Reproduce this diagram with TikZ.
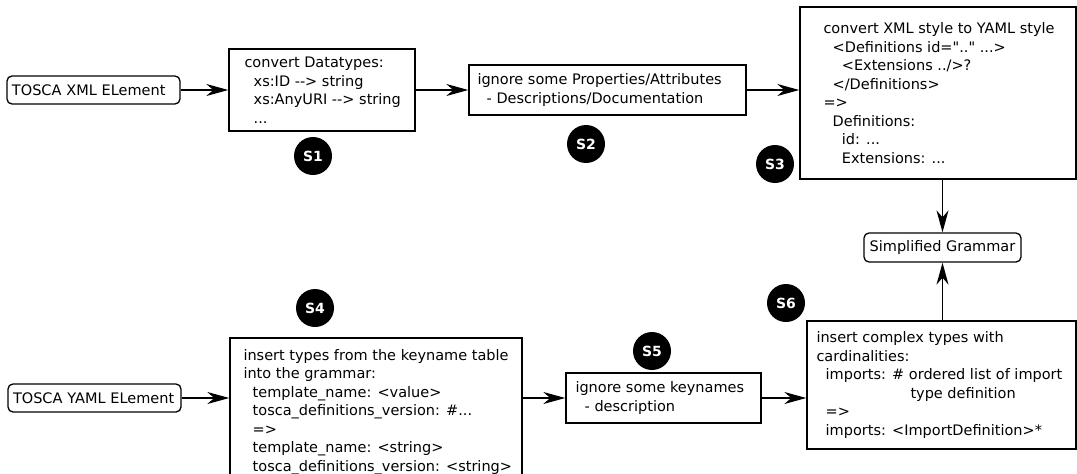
\documentclass[tikz,border=0pt]{standalone}
\usepackage{fontspec}
\newfontfamily\djv{DejaVu Sans}
\usetikzlibrary{arrows.meta}
\newcommand\myind{\hspace*{9.2pt}}
\begin{document}
\begin{tikzpicture}[x=1pt,y=-1pt,
  procbox/.style={draw, line width=1.4pt, inner sep=0pt},
  termbox/.style={draw, line width=1.3pt, rounded corners=5pt, inner xsep=5pt, inner ysep=0pt,
    minimum height=28pt, font=\djv\fontsize{14.5}{18.5}\selectfont},
  boxtext/.style={align=left, inner sep=0pt, anchor=west, font=\djv\fontsize{14.5}{18.5}\selectfont},
  circ/.style={circle, fill=black, minimum size=38pt, inner sep=0pt, text=white,
    font=\djv\fontsize{14}{16}\selectfont\bfseries},
  arr/.style={line width=1.3pt, -{Stealth[length=22pt,width=12pt,inset=7pt]}}]
\useasboundingbox (0,0) rectangle (1077,474);
\fill[white] (0,0) rectangle (1077,474);

% terminals
\node[termbox, text width=163pt, align=left] (xml) at (93.5,90) {TOSCA XML ELement};
\node[termbox, text width=163pt, align=left] (yaml) at (94.5,398) {TOSCA YAML ELement};
\node[termbox, minimum width=157pt, minimum height=29pt, inner xsep=0pt] (sg) at (942.5,247.5) {Simplified Grammar};

% process boxes
\node[procbox, minimum width=186pt, minimum height=82pt] (s1) at (322,90) {};
\node[boxtext] (t1) at ([xshift=16pt]s1.west) {convert Datatypes:\\
\myind xs:ID -{}-> string\\
\myind xs:AnyURI -{}-> string\\
\myind ...};

\node[procbox, minimum width=277pt, minimum height=50pt] (s2) at (607.5,90) {};
\node[boxtext] (t2) at ([xshift=9pt]s2.west) {ignore some Properties/Attributes\\
\myind - Descriptions/Documentation};

\node[procbox, minimum width=276pt, minimum height=172pt] (s3) at (938,93) {};
\node[boxtext] (t3) at ([xshift=24pt]s3.west) {convert XML style to YAML style\\
\myind <Definitions id=".." ...>\\
\myind\myind <Extensions ../>?\\
\myind </Definitions>\\
=>\\
\myind Definitions:\\
\myind\myind id: ...\\
\myind\myind Extensions: ...};

\node[procbox, minimum width=292pt, minimum height=148pt] (s4) at (376,412) {};
\node[boxtext] (t4) at ([xshift=14pt]s4.west) {insert types from the keyname table\\
into the grammar:\\
\myind template\_name: <value>\\
\myind tosca\_definitions\_version: \#...\\
\myind =>\\
\myind template\_name: <string>\\
\myind tosca\_definitions\_version: <string>};

\node[procbox, minimum width=195pt, minimum height=50pt] (s5) at (663.5,398) {};
\node[boxtext] (t5) at ([xshift=10pt]s5.west) {ignore some keynames\\
\myind - description};

\node[procbox, minimum width=269pt, minimum height=128pt] (s6) at (941.5,385) {};
\node[boxtext] (t6) at ([xshift=10pt]s6.west) {insert complex types with\\
cardinalities:\\
\myind imports: \# ordered list of import\\
\hspace*{94pt}type definition\\
\myind =>\\
\myind imports: <ImportDefinition>*};

% step markers
\node[circ] (c1) at (313,156) {S1};
\node[circ] (c2) at (586,144) {S2};
\node[circ] (c3) at (775,164) {S3};
\node[circ] (c4) at (315,308) {S4};
\node[circ] (c5) at (652,351) {S5};
\node[circ] (c6) at (786,303) {S6};

% connectors
\draw[arr] (xml) -- (s1);
\draw[arr] (s1) -- (s2);
\draw[arr] (s2.east) -- (s2.east -| s3.west);
\draw[arr] (sg.north |- s3.south) -- (sg.north);
\draw[arr] (sg.south |- s6.north) -- (sg.south);
\draw[arr] (yaml.east) -- (yaml.east -| s4.west);
\draw[arr] (s4.east |- s5.west) -- (s5.west);
\draw[arr] (s5.east) -- (s5.east -| s6.west);
\end{tikzpicture}
\end{document}
